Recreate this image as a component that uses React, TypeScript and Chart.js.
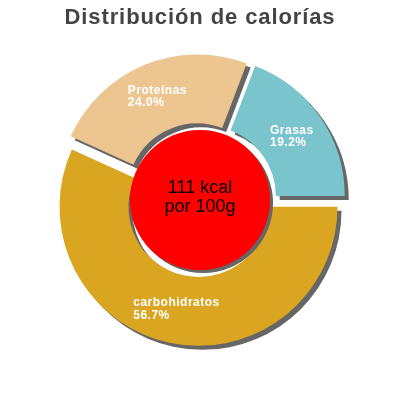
import { useEffect, useRef } from 'react';
import { Chart } from 'chart.js/auto';

const categories = ['carbohidratos', 'Proteínas', 'Grasas'];
const percentages = [56.7, 24.0, 19.2];
const sliceColors = ['#daa520', '#edc591', '#79c4cd'];
const chartTitle = 'Distribución de calorías';
const centerLines = ['111 kcal', 'por 100g'];

const FONT = "'Liberation Sans', Arial, sans-serif";
const EXPLODE = 7;

const explodedPie = {
  id: 'explodedPie',
  beforeDatasetsDraw(chart: any) {
    const { ctx } = chart;
    const arcs = chart.getDatasetMeta(0).data;

    // slices pushed outward, each with a hard drop shadow
    arcs.forEach((arc: any) => {
      const { startAngle, endAngle } = arc.getProps(['startAngle', 'endAngle'], true);
      const mid = (startAngle + endAngle) / 2;
      ctx.save();
      ctx.translate(Math.cos(mid) * EXPLODE, Math.sin(mid) * EXPLODE);
      ctx.shadowColor = '#666666';
      ctx.shadowOffsetX = 4;
      ctx.shadowOffsetY = 4;
      ctx.shadowBlur = 0;
      arc.draw(ctx);
      ctx.restore();
    });

    // red centre disc
    const first = arcs[0].getProps(['x', 'y', 'innerRadius'], true);
    ctx.save();
    ctx.shadowColor = '#666666';
    ctx.shadowOffsetX = 3;
    ctx.shadowOffsetY = 3;
    ctx.beginPath();
    ctx.arc(first.x, first.y, first.innerRadius, 0, Math.PI * 2);
    ctx.fillStyle = '#ff0000';
    ctx.fill();
    ctx.restore();

    ctx.save();
    ctx.fillStyle = '#000';
    ctx.font = `18px ${FONT}`;
    ctx.textAlign = 'center';
    ctx.textBaseline = 'middle';
    ctx.fillText(centerLines[0], first.x, first.y - 11.5);
    ctx.fillText(centerLines[1], first.x, first.y + 7);
    ctx.restore();

    // slice labels
    ctx.save();
    ctx.fillStyle = '#ffffff';
    ctx.font = `bold 12px ${FONT}`;
    ctx.letterSpacing = '0.5px';
    ctx.textAlign = 'left';
    ctx.textBaseline = 'middle';
    arcs.forEach((arc: any, i: number) => {
      const p = arc.getProps(['x', 'y', 'startAngle', 'endAngle', 'innerRadius', 'outerRadius'], true);
      const mid = (p.startAngle + p.endAngle) / 2;
      const r = (p.innerRadius + p.outerRadius) / 2 + EXPLODE;
      const cx = p.x + Math.cos(mid) * r;
      const cy = p.y + Math.sin(mid) * r;
      const lines = [categories[i], `${percentages[i].toFixed(1)}%`];
      const w = Math.max(...lines.map((l) => ctx.measureText(l).width));
      ctx.fillText(lines[0], cx - w / 2, cy - 6.25);
      ctx.fillText(lines[1], cx - w / 2, cy + 6.25);
    });
    ctx.restore();

    return false;
  },
  afterDraw(chart: any) {
    const { ctx } = chart;
    ctx.save();
    ctx.fillStyle = '#444444';
    ctx.font = `bold 22px ${FONT}`;
    ctx.letterSpacing = '0.9px';
    ctx.textAlign = 'center';
    ctx.textBaseline = 'middle';
    ctx.fillText(chartTitle, 200, 18);
    ctx.restore();
  },
};

export default function App() {
  const canvasRef = useRef<HTMLCanvasElement>(null);
  const chartRef = useRef<Chart | null>(null);

  useEffect(() => {
    if (!canvasRef.current) return;
    chartRef.current?.destroy();
    chartRef.current = new Chart(canvasRef.current, {
      type: 'doughnut',
      data: {
        labels: categories,
        datasets: [{
          data: percentages,
          backgroundColor: sliceColors,
          borderWidth: 0,
        }],
      },
      options: {
        responsive: false,
        animation: false,
        rotation: 90,
        radius: 139,
        cutout: '50.4%',
        layout: { padding: 0 },
        plugins: {
          legend: { display: false },
          tooltip: { enabled: false },
          title: { display: false },
        },
        events: [],
      },
      plugins: [explodedPie],
    });
    return () => chartRef.current?.destroy();
  }, []);

  return (
    <div style={{ position: 'fixed', left: 0, top: 0, width: 400, height: 400, background: '#fff' }}>
      <canvas ref={canvasRef} width={400} height={400} style={{ width: 400, height: 400 }} />
    </div>
  );
}
